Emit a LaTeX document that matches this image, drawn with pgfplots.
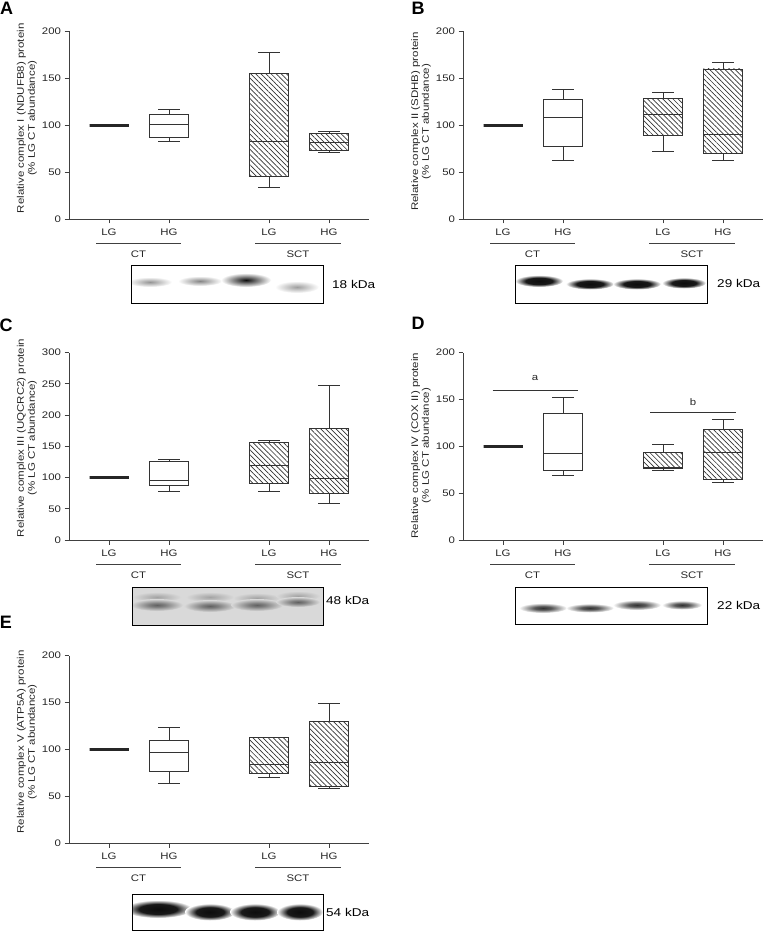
\documentclass[border=0pt]{standalone}
\usepackage{fontspec}
\setmainfont{Liberation Sans}
\newfontfamily\panelfont{Liberation Sans}
\usepackage{graphicx}
\usepackage{pgfplots}
\pgfplotsset{compat=1.18}
\usepgfplotslibrary{statistics}
\usetikzlibrary{patterns.meta}
\newcommand{\sx}[1]{\scalebox{1.2}[1]{#1}}

\pgfdeclareradialshading{solidband}{\pgfpoint{0bp}{0bp}}{color(0bp)=(black!95);color(14bp)=(black!90);color(25bp)=(white);color(50bp)=(white)}
\pgfdeclareradialshading{medband}{\pgfpoint{0bp}{0bp}}{color(0bp)=(black!80);color(9bp)=(black!65);color(25bp)=(white);color(50bp)=(white)}
\pgfdeclareradialshading{grayband}{\pgfpoint{0bp}{0bp}}{color(0bp)=(black!62);color(8bp)=(black!50);color(25bp)=(black!15);color(50bp)=(black!15)}
\pgfdeclareradialshading{grayfaint}{\pgfpoint{0bp}{0bp}}{color(0bp)=(black!36);color(25bp)=(black!15);color(50bp)=(black!15)}

\pgfplotsset{
  panel/.style={
    scale only axis, width=300pt, height=187.5pt,
    anchor=south west,
    xmin=0, xmax=300, ymin=0,
    axis x line*=bottom, axis y line*=left,
    axis line style={black!75, line width=1pt, -},
    xtick={40,100,200,260}, xticklabels={\sx{LG},\sx{HG},\sx{LG},\sx{HG}},
    xticklabel style={yshift=-1.5pt},
    yticklabel={\sx{\pgfmathprintnumber{\tick}}},
    tick align=outside, major tick length=4.5pt,
    tick style={black!75, line width=0.9pt},
    clip=false,
    /pgf/number format/assume math mode=true,
    tick label style={font=\fontsize{9.5}{11}\selectfont, text=black!85},
    boxplot/draw direction=y,
    boxplot/box extend=39, boxplot/whisker extend=22,
  },
  bxw/.style={black!80, line width=0.9pt, solid},
  bxl/.style={black!85, line width=2.6pt, solid},
  bxh/.style={black!80, line width=0.9pt, solid,
    boxplot/every box/.append style={pattern={Lines[angle=-45,distance=3.6pt,line width=0.7pt]}, pattern color=black!80}},
}
\newcommand{\ylab}[3]{\node[rotate=90, text=black!85, font=\fontsize{9.6}{12}\selectfont, inner sep=0pt] at ([xshift=-42pt]rel axis cs:0,#1) {\sx{\begin{tabular}{@{}c@{}}#2\\[-1.2pt]#3\end{tabular}}};}
\newcommand{\groups}{%
  \draw[black!75, line width=0.9pt] ([yshift=-24pt]axis cs:27,0) -- ([yshift=-24pt]axis cs:112,0);
  \draw[black!75, line width=0.9pt] ([yshift=-24pt]axis cs:186,0) -- ([yshift=-24pt]axis cs:272,0);
  \node[font=\fontsize{9.5}{11}\selectfont, text=black!85] at ([yshift=-35pt]axis cs:69.5,0) {\sx{CT}};
  \node[font=\fontsize{9.5}{11}\selectfont, text=black!85] at ([yshift=-35pt]axis cs:229,0) {\sx{SCT}};}
\newcommand{\kda}[3]{\node[anchor=west, inner sep=0pt, font=\fontsize{11.3}{13}\selectfont] at (#1pt,-#2pt) {\sx{#3}};}
\newcommand{\plab}[3]{\node[font=\panelfont\bfseries\fontsize{18}{20}\selectfont, inner sep=0pt] at (#1pt,-#2pt) {#3};}

\begin{document}
\begin{tikzpicture}
\path[use as bounding box] (0,0) rectangle (765pt,-933pt);

% ---------- A ----------
\begin{axis}[panel, at={(69pt,-219pt)}, ymax=200, ytick={0,50,...,200}]
\addplot[bxl, boxplot prepared={draw position=40, median=100, upper quartile=100, lower quartile=100, upper whisker=100, lower whisker=100}] coordinates {};
\addplot[bxw, boxplot prepared={draw position=100, median=100.5, upper quartile=112, lower quartile=87.4, upper whisker=116.5, lower whisker=82.8}] coordinates {};
\addplot[bxh, boxplot prepared={draw position=200, median=82.8, upper quartile=155, lower quartile=45.5, upper whisker=178, lower whisker=33.4}] coordinates {};
\addplot[bxh, boxplot prepared={draw position=260, median=81.3, upper quartile=91, lower quartile=73.2, upper whisker=93.8, lower whisker=71}] coordinates {};
\ylab{0.537}{Relative complex I (NDUFB8) protein}{(\% LG CT abundance)}
\groups
\end{axis}

% ---------- B ----------
\begin{axis}[panel, at={(463pt,-219pt)}, ymax=200, ytick={0,50,...,200}]
\addplot[bxl, boxplot prepared={draw position=40, median=100, upper quartile=100, lower quartile=100, upper whisker=100, lower whisker=100}] coordinates {};
\addplot[bxw, boxplot prepared={draw position=100, median=108.7, upper quartile=127.5, lower quartile=77, upper whisker=138.2, lower whisker=62.2}] coordinates {};
\addplot[bxh, boxplot prepared={draw position=200, median=111.5, upper quartile=128.2, lower quartile=89.5, upper whisker=135, lower whisker=71.8}] coordinates {};
\addplot[bxh, boxplot prepared={draw position=260, median=90, upper quartile=160, lower quartile=69.6, upper whisker=167, lower whisker=62.5}] coordinates {};
\ylab{0.52}{Relative complex II (SDHB) protein}{(\% LG CT abundance)}
\groups
\end{axis}

% ---------- C ----------
\begin{axis}[panel, at={(69pt,-540pt)}, ymax=300, ytick={0,50,...,300}]
\addplot[bxl, boxplot prepared={draw position=40, median=100, upper quartile=100, lower quartile=100, upper whisker=100, lower whisker=100}] coordinates {};
\addplot[bxw, boxplot prepared={draw position=100, median=95, upper quartile=124.9, lower quartile=86.5, upper whisker=128.1, lower whisker=77.4}] coordinates {};
\addplot[bxh, boxplot prepared={draw position=200, median=119.6, upper quartile=156.4, lower quartile=90.2, upper whisker=159.1, lower whisker=77.4}] coordinates {};
\addplot[bxh, boxplot prepared={draw position=260, median=98.8, upper quartile=178.9, lower quartile=74.2, upper whisker=247.7, lower whisker=58.7}] coordinates {};
\ylab{0.544}{Relative complex III (UQCRC2) protein}{(\% LG CT abundance)}
\groups
\end{axis}

% ---------- D ----------
\begin{axis}[panel, at={(463pt,-540pt)}, ymax=200, ytick={0,50,...,200}]
\addplot[bxl, boxplot prepared={draw position=40, median=100, upper quartile=100, lower quartile=100, upper whisker=100, lower whisker=100}] coordinates {};
\addplot[bxw, boxplot prepared={draw position=100, median=91.8, upper quartile=134.9, lower quartile=74.4, upper whisker=152.3, lower whisker=68.7}] coordinates {};
\addplot[bxh, boxplot prepared={draw position=200, median=77, upper quartile=93.6, lower quartile=75.8, upper whisker=101.4, lower whisker=74.7}] coordinates {};
\addplot[bxh, boxplot prepared={draw position=260, median=93.9, upper quartile=117.4, lower quartile=64.4, upper whisker=128.8, lower whisker=61.9}] coordinates {};
\draw[black!80, line width=0.9pt] (axis cs:29.7,159.8) -- (axis cs:115,159.8);
\node[font=\fontsize{9.5}{11}\selectfont, text=black!85] at (axis cs:72,172.8) {\sx{a}};
\draw[black!80, line width=0.9pt] (axis cs:187,136) -- (axis cs:273,136);
\node[font=\fontsize{9.5}{11}\selectfont, text=black!85] at (axis cs:230,147) {\sx{b}};
\ylab{0.504}{Relative complex IV (COX II) protein}{(\% LG CT abundance)}
\groups
\end{axis}

% ---------- E ----------
\begin{axis}[panel, at={(69pt,-843pt)}, ymax=200, ytick={0,50,...,200}]
\addplot[bxl, boxplot prepared={draw position=40, median=100, upper quartile=100, lower quartile=100, upper whisker=100, lower whisker=100}] coordinates {};
\addplot[bxw, boxplot prepared={draw position=100, median=97, upper quartile=109.8, lower quartile=76.3, upper whisker=123, lower whisker=63.1}] coordinates {};
\addplot[bxh, boxplot prepared={draw position=200, median=84.1, upper quartile=112.7, lower quartile=74.2, upper whisker=112.7, lower whisker=69.9}] coordinates {};
\addplot[bxh, boxplot prepared={draw position=260, median=85.9, upper quartile=129.4, lower quartile=60.6, upper whisker=148.7, lower whisker=57.8}] coordinates {};
\ylab{0.539}{Relative complex V (ATP5A) protein}{(\% LG CT abundance)}
\groups
\end{axis}

% ---------- panel letters ----------
\plab{6.5}{8.5}{A}
\plab{418}{8.5}{B}
\plab{6}{325}{C}
\plab{418}{323}{D}
\plab{6}{622}{E}

% ---------- blots ----------
% A
\begin{scope}
\clip (131pt,-265pt) rectangle (323pt,-303pt);
\fill[white] (131pt,-265pt) rectangle (323pt,-303pt);
\shade[inner color=black!42, outer color=white] (150pt,-282pt) ellipse [x radius=22pt, y radius=5pt];
\shade[inner color=black!48, outer color=white] (200pt,-281pt) ellipse [x radius=22pt, y radius=5pt];
\shade[inner color=black!95, outer color=white] (246pt,-280pt) ellipse [x radius=25pt, y radius=7pt];
\shade[inner color=black!38, outer color=white] (297pt,-287pt) ellipse [x radius=22pt, y radius=6pt];
\end{scope}
\draw[black, line width=1pt] (131pt,-265pt) rectangle (323pt,-303pt);
\kda{332}{284}{18 kDa}
% B
\begin{scope}
\clip (515pt,-265pt) rectangle (707pt,-303pt);
\fill[white] (515pt,-265pt) rectangle (707pt,-303pt);
\shade[shading=solidband] (539pt,-281pt) ellipse [x radius=24pt, y radius=6pt];
\shade[shading=solidband] (590pt,-284pt) ellipse [x radius=24pt, y radius=5.5pt];
\shade[shading=solidband] (637pt,-284pt) ellipse [x radius=24pt, y radius=5.5pt];
\shade[shading=solidband] (684pt,-283pt) ellipse [x radius=22pt, y radius=5.5pt];
\end{scope}
\draw[black, line width=1pt] (515pt,-265pt) rectangle (707pt,-303pt);
\kda{717}{283}{29 kDa}
% C
\begin{scope}
\clip (132pt,-587pt) rectangle (323pt,-625pt);
\fill[black!15] (132pt,-587pt) rectangle (323pt,-625pt);
\shade[shading=grayfaint] (157pt,-597pt) ellipse [x radius=24pt, y radius=5pt];
\shade[shading=grayfaint] (210pt,-597pt) ellipse [x radius=24pt, y radius=5pt];
\shade[shading=grayfaint] (257pt,-598pt) ellipse [x radius=24pt, y radius=5pt];
\shade[shading=grayfaint] (298pt,-596pt) ellipse [x radius=22pt, y radius=5pt];
\shade[shading=grayband] (157pt,-605pt) ellipse [x radius=26pt, y radius=6pt];
\shade[shading=grayband] (210pt,-606pt) ellipse [x radius=26pt, y radius=6pt];
\shade[shading=grayband] (257pt,-605pt) ellipse [x radius=26pt, y radius=6pt];
\shade[shading=grayband] (298pt,-602pt) ellipse [x radius=22pt, y radius=5pt];
\end{scope}
\draw[black, line width=1pt] (132pt,-587pt) rectangle (323pt,-625pt);
\kda{326}{600}{48 kDa}
% D
\begin{scope}
\clip (515pt,-587pt) rectangle (707pt,-624pt);
\fill[white] (515pt,-587pt) rectangle (707pt,-624pt);
\shade[shading=medband] (543pt,-608pt) ellipse [x radius=24pt, y radius=5pt];
\shade[shading=medband] (590pt,-608pt) ellipse [x radius=24pt, y radius=4.5pt];
\shade[shading=medband] (637pt,-605pt) ellipse [x radius=24pt, y radius=5pt];
\shade[shading=medband] (682pt,-605pt) ellipse [x radius=20pt, y radius=4.5pt];
\end{scope}
\draw[black, line width=1pt] (515pt,-587pt) rectangle (707pt,-624pt);
\kda{717}{605}{22 kDa}
% E
\begin{scope}
\clip (132pt,-894pt) rectangle (323pt,-930pt);
\fill[white] (132pt,-894pt) rectangle (323pt,-930pt);
\shade[shading=solidband] (158pt,-909pt) ellipse [x radius=34pt, y radius=9pt];
\shade[shading=solidband] (210pt,-912pt) ellipse [x radius=25pt, y radius=8.5pt];
\shade[shading=solidband] (255pt,-912pt) ellipse [x radius=25pt, y radius=8.5pt];
\shade[shading=solidband] (300pt,-912pt) ellipse [x radius=23pt, y radius=8.5pt];
\end{scope}
\draw[black, line width=1pt] (132pt,-894pt) rectangle (323pt,-930pt);
\kda{326}{912}{54 kDa}
\end{tikzpicture}
\end{document}
